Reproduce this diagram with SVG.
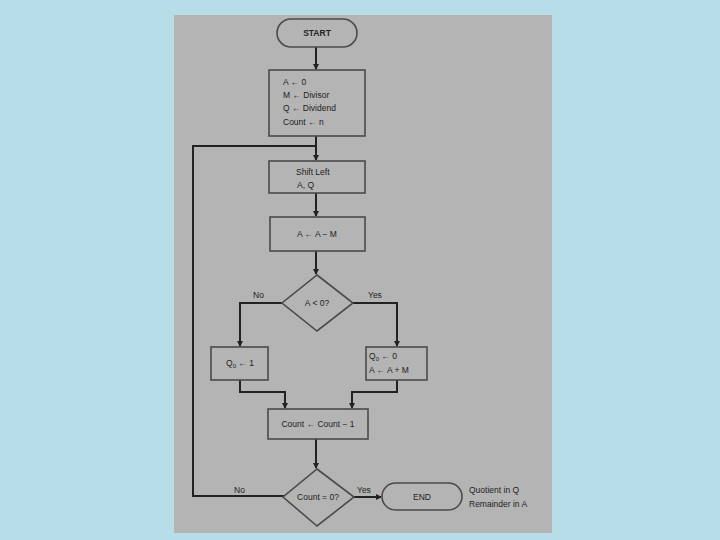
<svg xmlns="http://www.w3.org/2000/svg" width="720" height="540" viewBox="0 0 720 540">
<defs>
<marker id="ah" markerWidth="6" markerHeight="6" refX="5" refY="3" orient="auto" markerUnits="userSpaceOnUse">
<path d="M0,0 L6,3 L0,6 z" fill="#222"/>
</marker>
<style>
.box{fill:#b4b4b4;stroke:#4a4a4a;stroke-width:1.6}
.ln{fill:none;stroke:#222;stroke-width:2}
.t{font-family:"Liberation Sans",Arial,sans-serif;font-size:8.5px;fill:#222}
.c{text-anchor:middle}
</style>
</defs>
<rect x="0" y="0" width="720" height="540" fill="#b7dde8"/>
<rect x="174" y="15" width="378" height="518" fill="#b4b4b4"/>
<g id="connectors">
<path class="ln" d="M316,47 V69" marker-end="url(#ah)"/>
<path class="ln" d="M316,136 V160" marker-end="url(#ah)"/>
<path class="ln" d="M284,496 H193 V146 H316"/>
<path class="ln" d="M316,193 V216" marker-end="url(#ah)"/>
<path class="ln" d="M316,251 V274" marker-end="url(#ah)"/>
<path class="ln" d="M282,303 H240 V346" marker-end="url(#ah)"/>
<path class="ln" d="M353,303 H397 V346" marker-end="url(#ah)"/>
<path class="ln" d="M240,380 V392 H285 V408" marker-end="url(#ah)"/>
<path class="ln" d="M397,380 V392 H352 V408" marker-end="url(#ah)"/>
<path class="ln" d="M316,439 V468" marker-end="url(#ah)"/>
<path class="ln" d="M354,497 H381" marker-end="url(#ah)"/>
</g>
<g id="start">
<rect class="box" x="277" y="19" width="80" height="28" rx="14"/>
<text class="t c" x="317" y="36" font-weight="bold">START</text>
</g>
<g id="init">
<rect class="box" x="269" y="70" width="96" height="66"/>
<text class="t" x="283" y="85">A ← 0</text>
<text class="t" x="283" y="98">M ← Divisor</text>
<text class="t" x="283" y="111">Q ← Dividend</text>
<text class="t" x="283" y="125">Count ← n</text>
</g>
<g id="shift">
<rect class="box" x="269" y="161" width="96" height="32"/>
<text class="t" x="296" y="175">Shift Left</text>
<text class="t" x="297" y="188">A, Q</text>
</g>
<g id="sub">
<rect class="box" x="270" y="217" width="95" height="34"/>
<text class="t c" x="317" y="237">A ← A − M</text>
</g>
<g id="dec1">
<polygon class="box" points="317,275 353,303 317,331 282,303"/>
<text class="t c" x="317" y="306">A &lt; 0?</text>
<text class="t" x="253" y="298">No</text>
<text class="t" x="368" y="298">Yes</text>
</g>
<g id="q1">
<rect class="box" x="211" y="347" width="57" height="33"/>
<text class="t c" x="240" y="366">Q<tspan font-size="6" dy="2">0</tspan><tspan dy="-2"> ← 1</tspan></text>
</g>
<g id="q0">
<rect class="box" x="366" y="347" width="61" height="33"/>
<text class="t" x="369" y="359">Q<tspan font-size="6" dy="2">0</tspan><tspan dy="-2"> ← 0</tspan></text>
<text class="t" x="369" y="373">A ← A + M</text>
</g>
<g id="count">
<rect class="box" x="268" y="409" width="100" height="30"/>
<text class="t c" x="318" y="427">Count ← Count − 1</text>
</g>
<g id="dec2">
<polygon class="box" points="317,469 354,497 317,526 283,497"/>
<text class="t c" x="318" y="500" font-size="7.5">Count = 0?</text>
<text class="t" x="234" y="493">No</text>
<text class="t" x="357" y="493">Yes</text>
</g>
<g id="end">
<rect class="box" x="382" y="483" width="80" height="27" rx="13.5"/>
<text class="t c" x="422" y="500">END</text>
<text class="t" x="469" y="493">Quotient in Q</text>
<text class="t" x="469" y="507">Remainder in A</text>
</g>
</svg>
